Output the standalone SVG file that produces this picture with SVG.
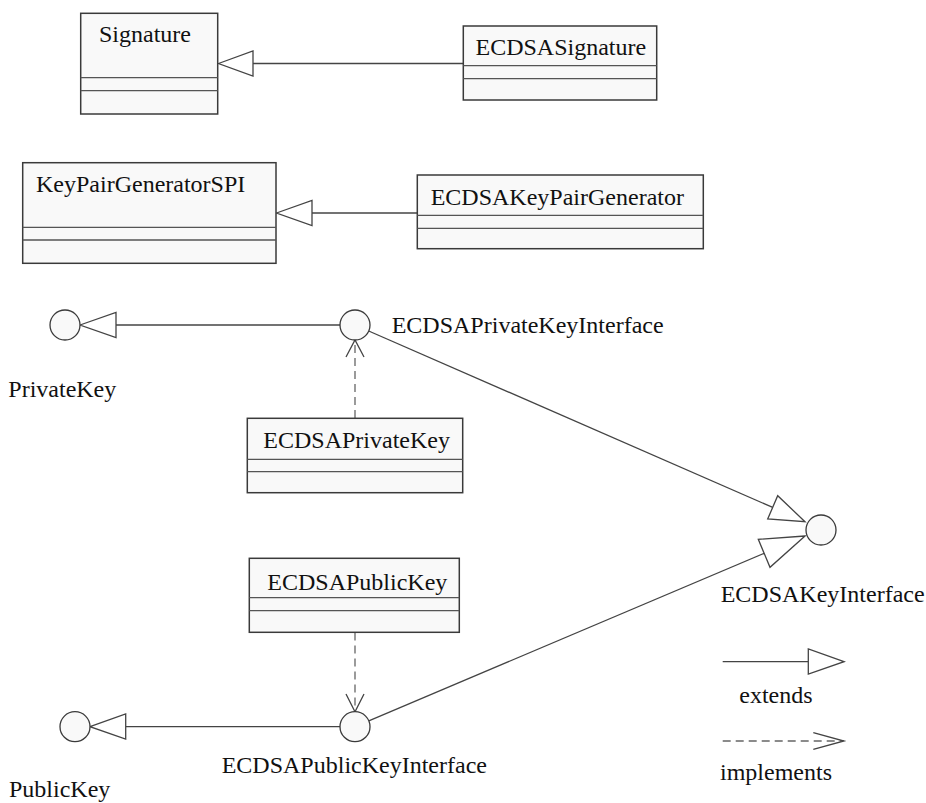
<svg xmlns="http://www.w3.org/2000/svg" width="926" height="803" viewBox="0 0 926 803">
<style>
.box{fill:#f9f9f9;stroke:#3a3a3a;stroke-width:1.5}
.div{stroke:#555;stroke-width:1.3}
.ifc{fill:#f9f9f9;stroke:#3a3a3a;stroke-width:1.3}
.ln{stroke:#444;stroke-width:1.3;fill:none}
.dash{stroke:#666;stroke-width:1.3;fill:none;stroke-dasharray:8 5}
.tri{fill:#fff;stroke:#444;stroke-width:1.3}
.t{font-family:"Liberation Serif","Times New Roman",serif;font-size:24px;fill:#111}
</style>
<rect width="926" height="803" fill="#fff"/>
<g id="connectors">
<line class="ln" x1="253" y1="63.5" x2="463" y2="63.5"/>
<polygon class="tri" points="218.5,63.5 253,51 253,76"/>
<line class="ln" x1="312" y1="213" x2="417" y2="213"/>
<polygon class="tri" points="276.5,213 312,200.5 312,225.5"/>
<line class="ln" x1="116" y1="325" x2="340" y2="325"/>
<polygon class="tri" points="80,325 116,312.5 116,337.5"/>
<line class="ln" x1="368.7" y1="331" x2="772.7" y2="507.4"/>
<polygon class="tri" points="805,521.7 777.7,495.7 767.7,519"/>
<line class="dash" x1="355" y1="418" x2="355" y2="341"/>
<polyline class="ln" points="346,357 355,340 364,357"/>
<line class="ln" x1="125.7" y1="726.7" x2="340" y2="726.7"/>
<polygon class="tri" points="90,726.7 125.7,714 125.7,739"/>
<line class="ln" x1="368.8" y1="720.9" x2="764.2" y2="553.3"/>
<polygon class="tri" points="805,536 758.3,539.3 770,567.3"/>
<line class="dash" x1="355" y1="632.5" x2="355" y2="711"/>
<polyline class="ln" points="346,694 355,711.7 364,694"/>
</g>
<g id="Signature">
<rect class="box" x="80.7" y="13.3" width="137" height="100.7"/>
<line class="div" x1="80.7" y1="77.7" x2="217.7" y2="77.7"/>
<line class="div" x1="80.7" y1="90.7" x2="217.7" y2="90.7"/>
<text class="t" x="99" y="41.5">Signature</text>
</g>
<g id="ECDSASignature">
<rect class="box" x="463.3" y="26" width="193.4" height="74"/>
<line class="div" x1="463.3" y1="65.7" x2="656.7" y2="65.7"/>
<line class="div" x1="463.3" y1="78.7" x2="656.7" y2="78.7"/>
<text class="t" x="475.5" y="55">ECDSASignature</text>
</g>
<g id="KeyPairGeneratorSPI">
<rect class="box" x="22.7" y="162.7" width="253.3" height="100.6"/>
<line class="div" x1="22.7" y1="227.3" x2="276" y2="227.3"/>
<line class="div" x1="22.7" y1="240" x2="276" y2="240"/>
<text class="t" x="36" y="191.5">KeyPairGeneratorSPI</text>
</g>
<g id="ECDSAKeyPairGenerator">
<rect class="box" x="417.3" y="175" width="286" height="73.7"/>
<line class="div" x1="417.3" y1="215.3" x2="703.3" y2="215.3"/>
<line class="div" x1="417.3" y1="228.3" x2="703.3" y2="228.3"/>
<text class="t" x="430.7" y="205">ECDSAKeyPairGenerator</text>
</g>
<g id="PrivateKey">
<circle class="ifc" cx="65" cy="325" r="15"/>
<text class="t" x="8.3" y="396.5">PrivateKey</text>
</g>
<g id="ECDSAPrivateKeyInterface">
<circle class="ifc" cx="355" cy="325" r="15"/>
<text class="t" x="391.7" y="333.3">ECDSAPrivateKeyInterface</text>
</g>
<g id="ECDSAPrivateKey">
<rect class="box" x="247.3" y="418.3" width="215.4" height="74.4"/>
<line class="div" x1="247.3" y1="459.3" x2="462.7" y2="459.3"/>
<line class="div" x1="247.3" y1="471.7" x2="462.7" y2="471.7"/>
<text class="t" x="263.3" y="448.3">ECDSAPrivateKey</text>
</g>
<g id="ECDSAKeyInterface">
<circle class="ifc" cx="821" cy="530" r="15"/>
<text class="t" x="720.7" y="601.7">ECDSAKeyInterface</text>
</g>
<g id="ECDSAPublicKey">
<rect class="box" x="249.3" y="558.3" width="210" height="74"/>
<line class="div" x1="249.3" y1="597.7" x2="459.3" y2="597.7"/>
<line class="div" x1="249.3" y1="610.7" x2="459.3" y2="610.7"/>
<text class="t" x="267.3" y="590">ECDSAPublicKey</text>
</g>
<g id="ECDSAPublicKeyInterface">
<circle class="ifc" cx="355" cy="726.7" r="15"/>
<text class="t" x="221.7" y="773.3">ECDSAPublicKeyInterface</text>
</g>
<g id="PublicKey">
<circle class="ifc" cx="75" cy="726.7" r="15"/>
<text class="t" x="9" y="797">PublicKey</text>
</g>
<g id="legend">
<line class="ln" x1="722.7" y1="661.7" x2="808.3" y2="661.7"/>
<polygon class="tri" points="844,661.7 808.3,649 808.3,674"/>
<text class="t" x="739.3" y="703.3">extends</text>
<line class="dash" x1="722.7" y1="741" x2="842" y2="741"/>
<polyline class="ln" points="813.3,732.7 844,741 813.3,749.3"/>
<text class="t" x="720" y="780">implements</text>
</g>
</svg>
